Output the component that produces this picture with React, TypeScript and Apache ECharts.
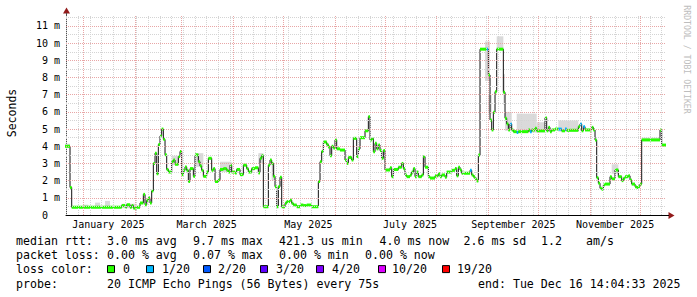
import React, { useEffect, useRef } from 'react';
import * as echarts from 'echarts';

// ---------------- data ----------------
const RANGE_START = '2024-12-21T14:04:33';
const RANGE_END = '2025-12-16T14:04:33';

const medianDates = [
  '2024-12-21', '2024-12-24', '2024-12-25',
  '2025-01-24', '2025-01-26', '2025-01-27', '2025-01-29', '2025-01-30', '2025-01-31',
  '2025-02-02', '2025-02-04', '2025-02-06', '2025-02-07', '2025-02-08', '2025-02-09', '2025-02-10', '2025-02-11', '2025-02-12', '2025-02-13', '2025-02-14', '2025-02-15', '2025-02-16', '2025-02-17', '2025-02-18', '2025-02-19', '2025-02-20', '2025-02-21', '2025-02-23', '2025-02-24', '2025-02-25', '2025-02-27', '2025-02-28',
  '2025-03-01', '2025-03-02', '2025-03-03', '2025-03-04', '2025-03-05', '2025-03-06', '2025-03-08', '2025-03-09', '2025-03-11', '2025-03-12', '2025-03-13', '2025-03-14', '2025-03-16', '2025-03-17', '2025-03-19', '2025-03-20', '2025-03-21', '2025-03-23', '2025-03-24', '2025-03-26', '2025-03-28', '2025-03-29', '2025-03-30', '2025-03-31',
  '2025-04-02', '2025-04-03', '2025-04-05', '2025-04-07', '2025-04-09', '2025-04-10', '2025-04-12', '2025-04-14', '2025-04-16', '2025-04-17', '2025-04-18', '2025-04-19', '2025-04-22', '2025-04-23', '2025-04-24', '2025-04-25', '2025-04-26', '2025-04-27', '2025-04-28', '2025-04-29', '2025-04-30',
  '2025-05-02', '2025-05-03', '2025-05-05', '2025-05-06', '2025-05-07', '2025-05-09', '2025-05-11', '2025-05-13', '2025-05-15', '2025-05-18', '2025-05-22', '2025-05-23', '2025-05-24', '2025-05-25', '2025-05-27', '2025-05-28', '2025-05-29', '2025-05-30', '2025-05-31',
  '2025-06-01', '2025-06-02', '2025-06-04', '2025-06-07', '2025-06-08', '2025-06-09', '2025-06-11', '2025-06-12', '2025-06-14', '2025-06-15', '2025-06-16', '2025-06-19', '2025-06-21', '2025-06-22', '2025-06-23', '2025-06-24', '2025-06-25', '2025-06-26', '2025-06-27', '2025-06-28', '2025-06-29', '2025-06-30',
  '2025-07-01', '2025-07-04', '2025-07-05', '2025-07-06', '2025-07-09', '2025-07-11', '2025-07-12', '2025-07-13', '2025-07-14', '2025-07-16', '2025-07-17', '2025-07-18', '2025-07-19', '2025-07-20', '2025-07-21', '2025-07-23', '2025-07-24', '2025-07-25', '2025-07-27', '2025-07-28', '2025-07-31',
  '2025-08-02', '2025-08-03', '2025-08-04', '2025-08-06', '2025-08-07', '2025-08-10', '2025-08-12', '2025-08-13', '2025-08-14', '2025-08-15', '2025-08-16', '2025-08-21', '2025-08-22', '2025-08-23', '2025-08-24', '2025-08-25', '2025-08-26', '2025-08-27', '2025-08-31',
  '2025-09-01', '2025-09-02', '2025-09-03', '2025-09-04', '2025-09-05', '2025-09-06', '2025-09-10', '2025-09-11', '2025-09-12', '2025-09-13', '2025-09-14', '2025-09-15', '2025-09-16', '2025-09-18', '2025-09-19', '2025-09-25', '2025-09-26', '2025-09-27', '2025-09-29', '2025-09-30',
  '2025-10-05', '2025-10-06', '2025-10-07', '2025-10-08', '2025-10-09', '2025-10-11', '2025-10-13', '2025-10-15', '2025-10-17', '2025-10-18', '2025-10-25', '2025-10-26', '2025-10-27', '2025-10-28', '2025-10-29',
  '2025-11-02', '2025-11-03', '2025-11-04', '2025-11-05', '2025-11-06', '2025-11-07', '2025-11-08', '2025-11-09', '2025-11-10', '2025-11-13', '2025-11-14', '2025-11-16', '2025-11-18', '2025-11-20', '2025-11-21', '2025-11-22', '2025-11-24', '2025-11-25', '2025-11-26', '2025-11-28', '2025-11-29', '2025-11-30',
  '2025-12-01', '2025-12-02', '2025-12-13', '2025-12-14',
];

// median rtt in milliseconds
const medianMs = [
  4.0, 1.6, 0.45,
  0.55, 0.45, 0.6, 0.45, 0.55, 0.4,
  0.45, 0.7, 1.2, 0.6, 0.85, 1.0, 0.7, 1.4, 3.0, 3.6, 2.4, 4.1, 4.6, 5.0, 4.4, 3.5, 2.65, 2.5, 3.1, 3.2, 2.95, 3.4, 3.7,
  2.35, 2.6, 2.8, 2.6, 1.95, 2.7, 2.25, 3.5, 3.1, 2.85, 2.6, 2.25, 2.5, 3.3, 2.6, 2.7, 1.95, 2.05, 2.65, 2.7, 2.6, 2.5, 2.9, 2.5,
  2.45, 2.65, 2.35, 2.9, 2.7, 2.5, 2.7, 2.75, 2.45, 3.3, 3.45, 0.48, 2.9, 3.2, 3.0, 2.25, 1.65, 0.48, 1.65, 2.2, 0.48,
  0.68, 0.78, 0.87, 0.68, 0.58, 0.48, 0.58, 0.55, 0.58, 0.48, 1.95, 3.1, 3.7, 4.25, 4.1, 3.95, 3.45, 4.0, 3.9,
  4.37, 3.85, 3.78, 3.2, 3.0, 3.35, 3.2, 4.46, 3.4, 3.85, 4.5, 4.9, 5.72, 4.37, 4.45, 3.68, 4.17, 3.85, 4.07, 3.75, 3.3, 3.75,
  2.62, 2.75, 2.23, 2.65, 2.78, 3.0, 2.7, 2.33, 2.23, 2.33, 2.5, 2.7, 2.23, 2.5, 2.23, 2.33, 3.4, 2.78, 2.23, 2.15, 2.28,
  2.4, 2.23, 2.33, 2.2, 2.5, 2.6, 2.7, 2.28, 2.78, 2.62, 2.43, 2.6, 2.33, 2.23, 2.1, 1.98, 3.49, 9.65, 9.65,
  8.15, 5.53, 4.95, 5.98, 7.18, 9.65, 7.14, 5.63, 5.3, 4.95, 5.3, 4.95, 4.85, 4.8, 4.85, 4.95, 4.85, 4.95, 5.05, 4.9,
  5.66, 4.9, 5.1, 4.85, 4.95, 5.0, 5.0, 4.9, 5.0, 4.93, 5.14, 5.3, 4.9, 5.14, 4.95,
  5.1, 4.95, 4.37, 2.17, 1.85, 1.55, 1.5, 1.75, 1.8, 2.23, 2.1, 2.62, 2.23, 2.0, 2.13, 2.23, 2.28, 2.04, 1.8, 1.65, 1.6, 1.65,
  1.8, 4.37, 4.95, 4.07,
];

// samples with packet loss (lost pings out of 20)
const lossDates = ['2025-08-21', '2025-08-31', '2025-09-14', '2025-09-18', '2025-09-26', '2025-10-13', '2025-10-17', '2025-10-26', '2025-10-28'];
const lossCounts = [1, 1, 1, 1, 1, 1, 1, 1, 1];

// smoke (spread of the pings) in milliseconds
const smokeStart = ['2024-12-21', '2025-01-01', '2025-01-08', '2025-01-14', '2025-01-24', '2025-02-23', '2025-03-09', '2025-03-24', '2025-04-16', '2025-04-24', '2025-08-30', '2025-09-01', '2025-09-06', '2025-09-10', '2025-09-11', '2025-09-18', '2025-09-30', '2025-10-13', '2025-11-14', '2025-12-02'];
const smokeEnd = ['2024-12-24', '2025-01-04', '2025-01-11', '2025-01-17', '2025-02-02', '2025-02-27', '2025-03-14', '2025-03-31', '2025-04-19', '2025-04-26', '2025-09-02', '2025-09-03', '2025-09-10', '2025-09-11', '2025-09-15', '2025-09-30', '2025-10-05', '2025-10-25', '2025-11-18', '2025-12-13'];
const smokeLowMs = [3.9, 0.4, 0.4, 0.4, 0.4, 2.9, 2.8, 2.5, 3.0, 2.0, 7.8, 5.9, 9.6, 6.4, 4.9, 4.8, 4.8, 4.85, 2.4, 4.3];
const smokeHighMs = [4.15, 0.6, 0.72, 0.82, 0.65, 3.45, 3.6, 3.1, 3.6, 3.0, 10.1, 7.0, 10.4, 8.2, 6.0, 5.9, 5.4, 5.5, 2.95, 4.5];

const monthLabelDates = ['2025-01-16', '2025-03-16', '2025-05-16', '2025-07-16', '2025-09-16', '2025-11-16'];
const yTickValues = [0, 1, 2, 3, 4, 5, 6, 7, 8, 9, 10, 11];
const yMaxMs = 11.64;

const lossLegendLabels = ['0', '1/20', '2/20', '3/20', '4/20', '10/20', '19/20'];
const lossLegendThresholds = [0, 1, 2, 3, 4, 10, 19];
const rttStats = ['3.0 ms avg', '9.7 ms max', '421.3 us min', '4.0 ms now', '2.6 ms sd', '1.2', 'am/s'];
const lossStats = ['0.00 % avg', '0.07 % max', '0.00 % min', '0.00 % now'];
const probeText = '20 ICMP Echo Pings (56 Bytes) every 75s';
const endText = 'end: Tue Dec 16 14:04:33 2025';
const monthNames = ['January', 'February', 'March', 'April', 'May', 'June', 'July', 'August', 'September', 'October', 'November', 'December'];

// ---------------- styles / layout ----------------
const LOSS_COLORS = ['#26ff00', '#00b8ff', '#0059ff', '#5e00ff', '#7e00ff', '#dd00ff', '#ff0000'];
const MONO = '"DejaVu Sans Mono", monospace';
const LEG_FONT = `11.6px ${MONO}`;
const rttX = [107, 193, 279, 379.5, 463.5, 541, 586];
const lossX = [107, 193, 279, 365];
const squareX = [107, 146, 203, 260, 316, 378, 442];
const squareLabelX = [123, 162, 218, 276, 332, 392, 457];
const rowY = [240.5, 254.8, 269.1, 283.5];

const ts = (s: string) => new Date(s.length > 10 ? s : s + 'T00:00:00').getTime();

export default function App() {
  const ref = useRef<HTMLDivElement>(null);
  useEffect(() => {
    if (!ref.current) return;
    const chart = echarts.init(ref.current, null, { renderer: 'svg' });
    const tStart = ts(RANGE_START);
    const tEnd = ts(RANGE_END);
    const DAY = 86400000;

    const lossIdx = (d: string) => {
      const k = lossDates.indexOf(d);
      const c = k >= 0 ? lossCounts[k] : 0;
      let idx = 0;
      lossLegendThresholds.forEach((th, i) => { if (c >= th) idx = i; });
      return idx;
    };

    const n = medianDates.length;
    const segData = medianDates.map((d, i) => [
      ts(d), i + 1 < n ? ts(medianDates[i + 1]) : tEnd, medianMs[i], lossIdx(d),
    ]);
    const lineData = medianDates.map((d, i) => [ts(d), medianMs[i]]);
    lineData.push([tEnd, medianMs[n - 1]]);
    const smokeData = smokeStart.map((s, i) => [ts(s), ts(smokeEnd[i]), smokeLowMs[i], smokeHighMs[i]]);

    // grid lines
    const minorStyle = { color: '#d4d4d4', width: 1, type: [1, 1] as any };
    const majorStyle = { color: '#e8a6a6', width: 1, type: [1, 1] as any };
    const gridLines: any[] = [];
    for (let v = 0.5; v < yMaxMs; v += 1) gridLines.push({ yAxis: v, lineStyle: minorStyle });
    let sunday = ts('2024-12-22');
    while (sunday < tEnd) { gridLines.push({ xAxis: sunday, lineStyle: minorStyle }); sunday += 7 * DAY; }
    for (let v = 1; v < yMaxMs; v += 1) gridLines.push({ yAxis: v, lineStyle: majorStyle });
    for (let m = 0; m < 12; m++) {
      const t = new Date(2025, m, 1).getTime();
      if (t > tStart && t < tEnd) gridLines.push({ xAxis: t, lineStyle: majorStyle });
    }

    const graphics: any[] = [];
    const txt = (text: string, x: number, y: number, extra: any = {}) => ({
      type: 'text', x, y, silent: true,
      style: { text, font: LEG_FONT, fill: '#000', align: 'left', verticalAlign: 'middle', ...extra },
    });
    graphics.push(txt('median rtt:', 16, rowY[0]));
    rttStats.forEach((s, i) => graphics.push(txt(s, rttX[i], rowY[0])));
    graphics.push(txt('packet loss:', 16, rowY[1]));
    lossStats.forEach((s, i) => graphics.push(txt(s, lossX[i], rowY[1])));
    graphics.push(txt('loss color:', 16, rowY[2]));
    lossLegendLabels.forEach((s, i) => {
      graphics.push({
        type: 'rect', silent: true,
        shape: { x: squareX[i] + 0.5, y: rowY[2] - 3.5, width: 7, height: 7 },
        style: { fill: LOSS_COLORS[i], stroke: '#000', lineWidth: 1 },
      });
      graphics.push(txt(s, squareLabelX[i], rowY[2]));
    });
    graphics.push(txt('probe:', 16, rowY[3]));
    graphics.push(txt(probeText, 107, rowY[3]));
    graphics.push(txt(endText, 478, rowY[3]));
    graphics.push({
      type: 'text', x: 11.5, y: 113, rotation: Math.PI / 2, silent: true,
      style: { text: 'Seconds', font: `11.5px ${MONO}`, fill: '#000', align: 'center', verticalAlign: 'middle' },
    });
    graphics.push({
      type: 'text', x: 686.5, y: 59.5, rotation: -Math.PI / 2, silent: true,
      style: { text: 'RRDTOOL / TOBI OETIKER', font: `8.2px ${MONO}`, fill: '#bdbdbd', align: 'center', verticalAlign: 'middle' },
    });
    graphics.push({
      type: 'polygon', silent: true,
      shape: { points: [[66.5, 7.5], [63, 13.5], [70, 13.5]] },
      style: { fill: '#921b1b' },
    });
    graphics.push({
      type: 'polygon', silent: true,
      shape: { points: [[674.5, 215.5], [668.5, 212], [668.5, 219]] },
      style: { fill: '#921b1b' },
    });
    graphics.push({ type: 'line', silent: true, shape: { x1: 666, y1: 215.5, x2: 669, y2: 215.5 }, style: { stroke: '#000', lineWidth: 1 } });
    graphics.push({ type: 'line', silent: true, shape: { x1: 66.5, y1: 15, x2: 66.5, y2: 13 }, style: { stroke: '#505050', lineWidth: 1 } });

    chart.setOption({
      animation: false,
      backgroundColor: '#ffffff',
      grid: { left: 66, top: 15, width: 600, height: 200, containLabel: false },
      xAxis: {
        type: 'value', min: tStart, max: tEnd, scale: true,
        axisLine: { show: true, lineStyle: { color: '#000', width: 1 } },
        axisTick: { show: false },
        splitLine: { show: false },
        axisLabel: {
          customValues: monthLabelDates.map(ts),
          formatter: (v: number) => { const d = new Date(v); return `${monthNames[d.getMonth()]} ${d.getFullYear()}`; },
          fontFamily: MONO, fontSize: 10, color: '#000', margin: 4, hideOverlap: false,
        },
      },
      yAxis: {
        type: 'value', min: 0, max: yMaxMs,
        axisLine: { show: true, lineStyle: { color: '#505050', width: 1 } },
        axisTick: { show: false },
        splitLine: { show: false },
        axisLabel: {
          customValues: yTickValues,
          formatter: (v: number) => (v === 0 ? '0\u00a0\u00a0' : `${v} m`),
          fontFamily: MONO, fontSize: 10, color: '#000', margin: 6,
        },
      },
      graphic: graphics,
      series: [
        {
          type: 'line', data: [], z: 1, silent: true,
          markLine: { silent: true, symbol: ['none', 'none'], label: { show: false }, data: gridLines, animation: false },
        },
        {
          type: 'custom', z: 2, silent: true, data: smokeData, encode: { x: [0, 1], y: [2, 3] },
          renderItem: (_p: any, api: any) => {
            const a = api.coord([api.value(0), api.value(3)]);
            const b = api.coord([api.value(1), api.value(2)]);
            return { type: 'rect', shape: { x: a[0], y: a[1], width: b[0] - a[0], height: b[1] - a[1] }, style: { fill: '#dadada' } };
          },
        },
        {
          type: 'line', z: 3, silent: true, step: 'end', data: lineData, symbol: 'none',
          lineStyle: { color: '#111', width: 1 },
        },
        {
          type: 'custom', z: 4, silent: true, data: segData, encode: { x: [0, 1], y: 2 },
          renderItem: (_p: any, api: any) => {
            const a = api.coord([api.value(0), api.value(2)]);
            const b = api.coord([api.value(1), api.value(2)]);
            return {
              type: 'rect',
              shape: { x: a[0], y: a[1] - 1.5, width: Math.max(b[0] - a[0], 1.5), height: 3 },
              style: { fill: LOSS_COLORS[api.value(3)] },
            };
          },
        },
      ],
    });
    return () => chart.dispose();
  }, []);
  return <div ref={ref} style={{ position: 'absolute', left: 0, top: 0, width: 697, height: 297, background: '#fff' }} />;
}
